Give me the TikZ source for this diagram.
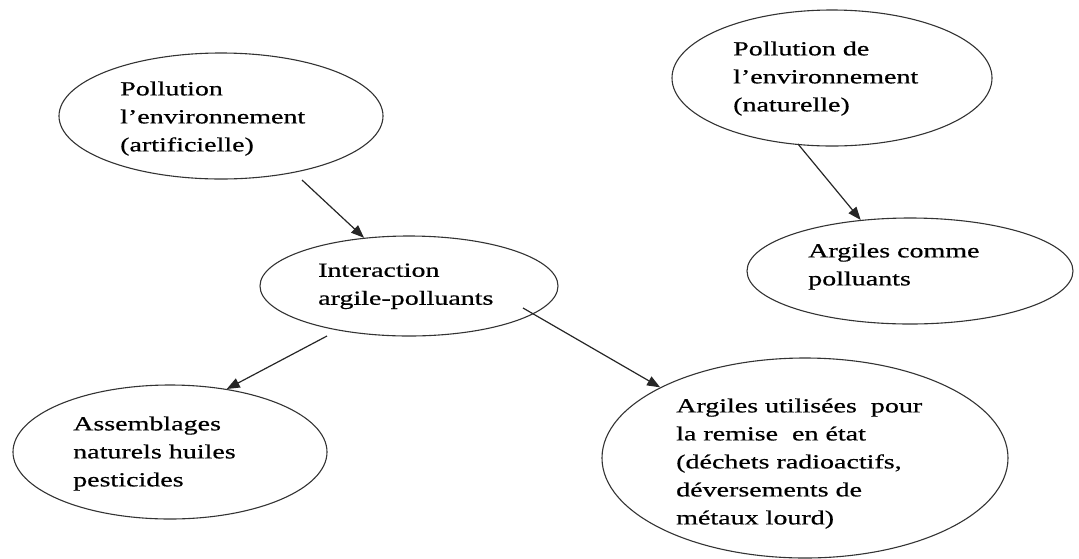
\documentclass[tikz,border=0pt]{standalone}
\usepackage{fontspec}
\setmainfont{Liberation Serif}[FakeStretch=1.4,FakeBold=0.6]
\usetikzlibrary{arrows.meta,shapes.geometric}
\begin{document}
\begin{tikzpicture}[x=1pt,y=-1pt,
  bubble/.style={draw=black!80, line width=1.1pt, ellipse, inner sep=0pt},
  txt/.style={anchor=north west, align=left, inner sep=0pt, font=\fontsize{20}{28}\selectfont, text=black},
  arr/.style={-{Triangle[length=13pt,width=10pt]}, line width=1.2pt, draw=black!85}]
\useasboundingbox (0,0) rectangle (1079,558);
% ellipses
\node[bubble, minimum width=324pt, minimum height=126pt] (e1) at (221,116) {};
\node[bubble, minimum width=320pt, minimum height=136pt] (e2) at (832,78) {};
\node[bubble, minimum width=298pt, minimum height=100pt] (e3) at (409,286) {};
\node[bubble, minimum width=326pt, minimum height=106pt] (e4) at (910,271) {};
\node[bubble, minimum width=314pt, minimum height=134pt] (e5) at (170,452) {};
\node[bubble, minimum width=406pt, minimum height=200pt] (e6) at (805,458) {};
% texts
\node[txt] (t1) at (120,81.3) {Pollution\\l’environnement\\(artificielle)};
\node[txt] (t2) at (733,41.3) {Pollution de\\l’environnement\\(naturelle)};
\node[txt] (t3) at (318,263.3) {Interaction\\argile-polluants};
\node[txt] (t4) at (808,243.3) {Argiles comme\\polluants};
\node[txt] (t5) at (73,416.3) {Assemblages\\naturels huiles\\pesticides};
\node[txt] (t6) at (676,398.3) {Argiles utilisées \ pour\\la remise \ en état\\(déchets radioactifs,\\déversements de\\métaux lourd)};
% connector start points
\coordinate (s1) at (302,180);
\coordinate (s2) at (798,144);
\coordinate (s3) at (327,336);
\coordinate (s4) at (523,308);
% arrows
\draw[arr] (s1) -- (e3.133);
\draw[arr] (s2) -- (e4.134);
\draw[arr] (s3) -- (e5.48);
\draw[arr] (s4) -- (e6.154.5);
\end{tikzpicture}
\end{document}
